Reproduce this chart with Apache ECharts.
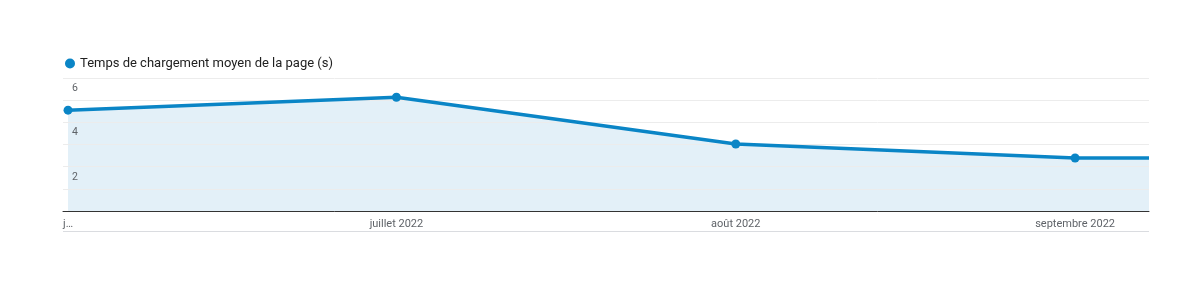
<!DOCTYPE html>
<html><head><meta charset="utf-8">
<script src="https://cdn.jsdelivr.net/npm/echarts@6/dist/echarts.min.js"></script>
<style>html,body{margin:0;padding:0;background:#fff}#c{width:1197px;height:283px}</style>
</head><body><div id="c"></div>
<script>
const seriesName = 'Temps de chargement moyen de la page (s)';
const dates = ['2022-06-01', '2022-07-01', '2022-08-01', '2022-09-01', '2022-09-07T18:00:00Z'];
const values = [4.55, 5.13, 3.02, 2.39, 2.39];
const tickDates = ['2022-06-01', '2022-07-01', '2022-08-01', '2022-09-01'];
const tickLabels = ['j…', 'juillet 2022', 'août 2022', 'septembre 2022'];
const yLabels = {2: '2', 4: '4', 6: '6'};

const DAY = 86400000;
const base = new Date(dates[0]).getTime();
const dayIdx = s => (new Date(s).getTime() - base) / DAY;
const tickDays = tickDates.map(dayIdx);
const data = dates.map((d, i) => {
  const item = {value: [dayIdx(d), values[i]]};
  if (i >= tickDates.length) item.symbol = 'none';
  return item;
});
const chart = echarts.init(document.getElementById('c'));
chart.setOption({
  animation: false,
  textStyle: {fontFamily: 'Roboto, sans-serif'},
  legend: {
    left: 60, top: 52, icon: 'circle', itemWidth: 10, itemHeight: 10, itemGap: 8,
    textStyle: {fontSize: 13, color: '#212121', fontFamily: 'Roboto', padding: [0, 0, 0, 0]},
    data: [seriesName]
  },
  grid: {left: 63, right: 48, top: 78, bottom: 72},
  xAxis: {
    type: 'value',
    min: -0.46,
    max: dayIdx(dates[dates.length - 1]),
    z: 4,
    axisLine: {lineStyle: {color: '#333', width: 1}},
    axisTick: {show: false},
    splitLine: {show: false},
    axisLabel: {
      customValues: tickDays,
      formatter: v => { const i = tickDays.indexOf(v); return i >= 0 ? tickLabels[i] : ''; },
      color: '#5f6368', fontSize: 11, margin: 8
    }
  },
  yAxis: {
    type: 'value', min: 0, max: 6, interval: 1, z: 2,
    axisLine: {show: false}, axisTick: {show: false},
    splitLine: {lineStyle: {color: '#ececec', width: 1}},
    axisLabel: {
      inside: true, color: '#5f6368', fontSize: 10.5, verticalAlign: 'top', padding: [5, 0, 0, 1],
      formatter: v => yLabels[v] || ''
    }
  },
  graphic: [{
    type: 'rect', shape: {x: 63, y: 231, width: 1086, height: 1},
    style: {fill: '#dadce0'}, silent: true
  }],
  series: [{
    name: seriesName, type: 'line', data: data, z: 1,
    symbol: 'none',
    itemStyle: {color: '#0a85c6'},
    lineStyle: {width: 0},
    areaStyle: {color: '#e3f0f8', opacity: 1}
  }, {
    name: seriesName, type: 'line', data: data, z: 3,
    symbol: 'circle', symbolSize: 9,
    itemStyle: {color: '#0a85c6'},
    lineStyle: {color: '#0a85c6', width: 3.5}
  }]
});
</script></body></html>
